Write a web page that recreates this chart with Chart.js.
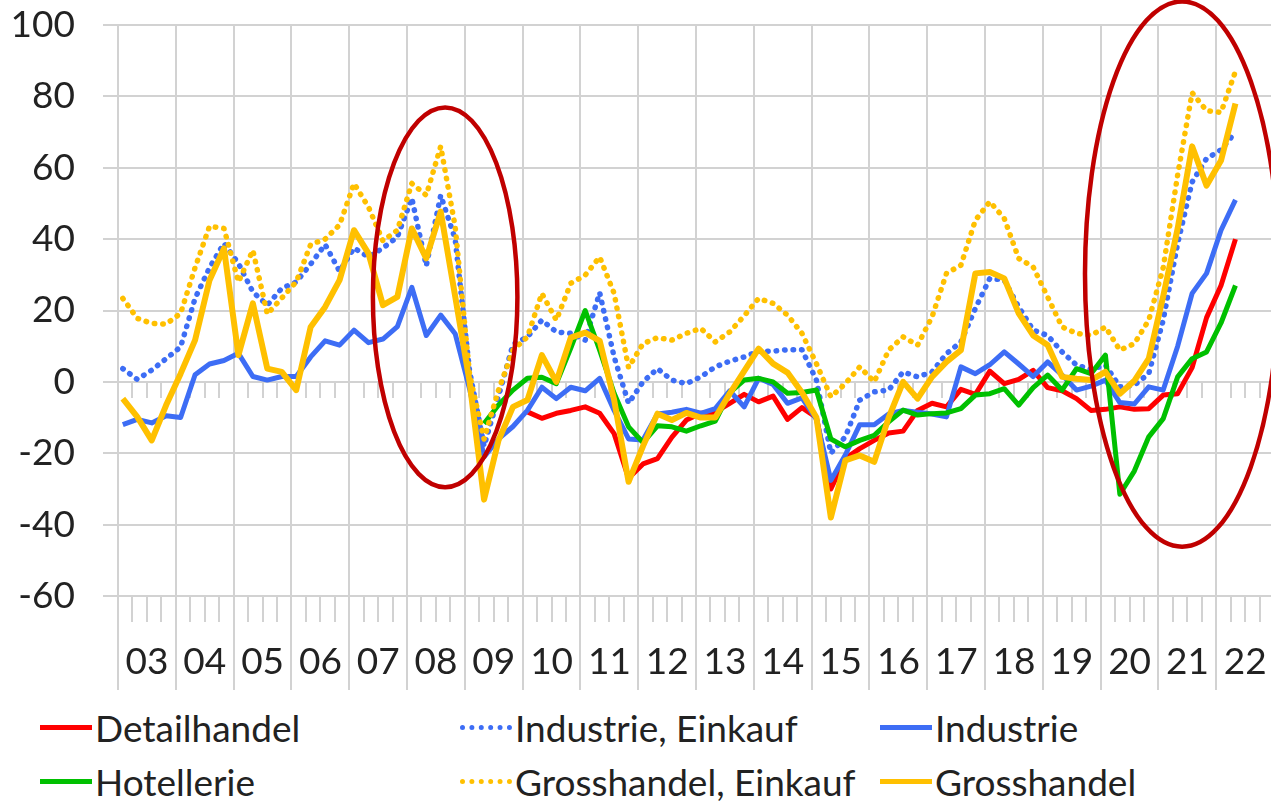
<!DOCTYPE html>
<html>
<head>
<meta charset="utf-8">
<script src="https://cdn.jsdelivr.net/npm/chart.js@4.4.1/dist/chart.umd.min.js"></script>
<style>
  html, body { margin: 0; padding: 0; background: #fff; overflow: hidden; }
  #wrap { position: relative; width: 1271px; height: 805px; overflow: hidden; }
  #chartBox { position: absolute; left: 0; top: 0; width: 1274px; height: 691px; }
  #legend { position: absolute; left: 0; top: 705px; width: 1271px; height: 100px; }
  .item { position: absolute; display: flex; align-items: center; height: 44px; font: 37px Lato, sans-serif; color: #222; white-space: nowrap; }
  .swatch { width: 52px; height: 0; margin-right: 3px; }
</style>
</head>
<body>
<div id="wrap">
  <div id="chartBox"><canvas id="myChart"></canvas></div>
  <div id="legend"></div>
</div>
<script>
// x axis labels (one per year) and the quarterly categories
var yearLabels = ['03','04','05','06','07','08','09','10','11','12','13','14','15','16','17','18','19','20','21','22'];
var lastQuarter = '2022Q2';

// Quarterly survey balances (2003Q1 .. 2022Q2)
var industrie = [
  -12, -10.5, -11.5, -9.5, -10, 2, 5, 6,
  8, 1.5, 0.5, 1.5, 1.5, 7, 11.5, 10.3,
  14.5, 11, 12, 15.5, 26.5, 13, 18.7, 13.5,
  -2, -21, -16, -12.5, -8, -1.5, -4.7, -1.5,
  -2.5, 1, -8, -16, -16.3, -9, -8.5, -7.7,
  -8.8, -7.5, -2.5, -7, 1, -0.7, -6, -4.5,
  -10.5, -27.6, -20.5, -12, -12, -9, -8, -8.5,
  -9, -9.8, 4.2, 2.3, 4.8, 8.4, 5, 1.5,
  5.6, 1.9, -2.3, -1.2, 0.5, -5.8, -6.2, -1.4,
  -2.3, 10, 24.8, 30.4, 42.5, 51
];
var industrieEinkauf = [
  3.7, 0.7, 3.3, 6.5, 9.8, 23.4, 32, 38.8,
  33.2, 25.2, 21.5, 26.2, 28, 33, 38.5, 31,
  37.5, 35, 37.5, 40.6, 51.5, 32.5, 52.3, 40,
  3, -18, -4, 10.5, 12.6, 17.3, 14, 13.6,
  11.7, 25, 7, -6, 0, 3.7, 0.5, -0.5,
  1.4, 4.2, 5.8, 7, 8.6, 8.6, 9, 9,
  0.5, -20, -15.4, -5.1, -2.8, -2.3, 2.8, 1.4,
  2.8, 7.9, 11.2, 20.6, 29, 28.5, 21, 14.5,
  13, 8.4, 4.7, 3.5, 4.7, -1.4, -0.9, 2.3,
  17.3, 38.8, 56, 62.6, 65, 70
];
var grosshandelEinkauf = [
  23.4, 17.8, 16.4, 16.2, 19.2, 32, 43.6, 43,
  28, 36.9, 19, 23.5, 28, 38.5, 40, 44,
  55.6, 49, 39.5, 42.5, 55.6, 52.3, 66, 43.5,
  2, -16, -2.3, 8.9, 12.6, 24.8, 17.3, 27.6,
  29.9, 35, 24.8, 4, 10.7, 12.4, 11.7, 13.6,
  15, 11.2, 14, 18.5, 23.4, 22, 18.7, 13.6,
  5.1, -4.2, -0.5, 4.2, 0, 8.9, 12.6, 10.3,
  18.2, 30.4, 32.7, 45.3, 50.5, 45.8, 34.6, 32.2,
  23.8, 15.4, 13.6, 13, 15.4, 8.9, 10.7, 17.3,
  32, 58, 81, 76, 75.5, 87
];
var grosshandel = [
  -4.7, -9.8, -16.4, -6.5, 2.3, 11.7, 28.5, 37.4,
  7.5, 22, 3.7, 2.8, -2.3, 15.4, 21, 28.5,
  42.5, 36, 21.5, 23.8, 43, 34.6, 47.7, 24,
  0, -33, -16.4, -7, -5.1, 7.5, 0, 12.4,
  13.8, 11.5, -5, -28, -18, -8.9, -10.7, -8.7,
  -10, -10, -3.3, 3, 9.3, 5.1, 2.6, -3,
  -10, -38, -22, -20.6, -22.4, -10, 0, -4.7,
  1.4, 5.6, 8.9, 30.4, 30.8, 29, 19.2, 13,
  10.3, 1.4, 0.9, 0.5, 2.8, -3.3, 0.3, 6.5,
  24, 43, 66, 55, 62, 78
];
// Detailhandel starts 2010Q1
var detailhandelStart = '2010Q1';
var detailhandel = [
  -8.4, -10.2, -8.8, -8,
  -7, -8.8, -14.5, -27, -23, -21.5, -15.5, -10.7,
  -8.8, -8.5, -6, -3.5, -5.6, -4, -10.5, -7.2,
  -10, -30, -21.5, -18.7, -16.4, -14.3, -13.8, -8,
  -6, -7, -2.1, -3.5, 3, -0.5, 0.7, 3.2,
  -1.6, -2.5, -4.7, -8, -7.7, -7, -7.7, -7.5,
  -3.7, -3.3, 4, 18, 27, 40
];
// Hotellerie starts 2009Q2
var hotellerieStart = '2009Q2';
var hotellerie = [
  -11.7, -6.5, -2.3,
  1, 1.3, -0.5, 9.5,
  20, 8.9, -3.2, -12.6, -17, -12.3, -12.6, -13.8,
  -12.3, -11, -3, 0.5, 1, 0, -3.2, -3,
  -2.3, -16, -18.2, -16.4, -15, -11.2, -7.9, -9.3,
  -8.9, -8.7, -7.5, -3.7, -3.3, -1.9, -6.5, -1.6,
  1.9, -2.3, 3.7, 2.3, 7.5, -31.5, -25, -15.4,
  -10.3, 1.4, 6.5, 8.4, 16.5, 27
];

// build the quarter categories from the year labels
var quarters = [];
yearLabels.forEach(function(y) {
  for (var q = 1; q <= 4; q++) quarters.push('20' + y + 'Q' + q);
});
quarters = quarters.slice(0, quarters.indexOf(lastQuarter) + 1);

var gridColor = '#d2d2d2';
var textColor = '#222';
var axisFont = { family: 'Lato', size: 37 };

// quarter -> position on the date axis (middle month of the quarter, as Excel does)
function quarterPos(label) {
  var year = parseInt(label.slice(0, 4), 10);
  var q = parseInt(label.slice(5), 10);
  return year + (q - 1) / 4 + 1 / 12;
}

function toPoints(values, start) {
  var offset = start ? quarters.indexOf(start) : 0;
  return values.map(function(v, i) {
    return { x: quarterPos(quarters[offset + i]), y: v };
  });
}

// red ellipses drawn by the author, in axis units
var highlights = [
  { x: 2008.66, y: 23.7, rx: 1.25, ry: 53.2 },
  { x: 2021.41, y: 30.2, rx: 1.68, ry: 76.4 }
];

var quarterTicks = {
  id: 'quarterTicks',
  beforeDatasetsDraw: function(chart) {
    var ctx = chart.ctx, xs = chart.scales.x, ys = chart.scales.y;
    var rows = [[ys.getPixelForValue(-60), 26], [ys.getPixelForValue(0), 16]];
    ctx.save();
    ctx.strokeStyle = gridColor;
    ctx.lineWidth = 2;
    for (var yr = xs.min; yr < xs.max; yr++) {
      for (var q = 1; q < 4; q++) {
        var px = Math.round(xs.getPixelForValue(yr + q / 4));
        rows.forEach(function(r) {
          ctx.beginPath();
          ctx.moveTo(px, r[0]);
          ctx.lineTo(px, r[0] + r[1]);
          ctx.stroke();
        });
      }
    }
    ctx.restore();
  }
};

var ellipses = {
  id: 'ellipses',
  afterDatasetsDraw: function(chart) {
    var ctx = chart.ctx, xs = chart.scales.x, ys = chart.scales.y;
    ctx.save();
    ctx.strokeStyle = '#c00000';
    ctx.lineWidth = 4.5;
    highlights.forEach(function(h) {
      var cx = xs.getPixelForValue(h.x), cy = ys.getPixelForValue(h.y);
      var rx = Math.abs(xs.getPixelForValue(h.x + h.rx) - cx);
      var ry = Math.abs(ys.getPixelForValue(h.y + h.ry) - cy);
      ctx.beginPath();
      ctx.ellipse(cx, cy, rx, ry, 0, 0, 2 * Math.PI);
      ctx.stroke();
    });
    ctx.restore();
  }
};

function line(label, values, start, color, width, dotted, order) {
  return {
    label: label,
    data: toPoints(values, start),
    borderColor: color,
    backgroundColor: color,
    borderWidth: width,
    borderDash: dotted ? [0.5, 8] : [],
    borderCapStyle: dotted ? 'round' : 'butt',
    borderJoinStyle: 'round',
    pointRadius: 0,
    tension: 0,
    fill: false,
    order: order
  };
}

var ctx = document.getElementById('myChart').getContext('2d');
var chart = new Chart(ctx, {
  type: 'line',
  data: {
    datasets: [
      line('Detailhandel', detailhandel, detailhandelStart, '#ff0000', 5, false, 6),
      line('Industrie, Einkauf', industrieEinkauf, null, '#3d6df5', 5.5, true, 5),
      line('Industrie', industrie, null, '#3d6df5', 5, false, 4),
      line('Hotellerie', hotellerie, hotellerieStart, '#00c000', 5, false, 3),
      line('Grosshandel, Einkauf', grosshandelEinkauf, null, '#ffc000', 5.5, true, 2),
      line('Grosshandel', grosshandel, null, '#ffc000', 6, false, 1)
    ]
  },
  options: {
    responsive: true,
    maintainAspectRatio: false,
    animation: false,
    layout: { padding: { top: 25, left: 0, right: 0, bottom: 0 } },
    plugins: {
      legend: { display: false },
      tooltip: { enabled: false }
    },
    scales: {
      x: {
        type: 'linear',
        min: 2003,
        max: 2023,
        afterBuildTicks: function(scale) {
          var ticks = yearLabels.map(function(l) { return { value: 2000 + parseInt(l, 10) }; });
          ticks.push({ value: 2023 });
          scale.ticks = ticks;
        },
        afterFit: function(scale) { scale.height = 95; },
        ticks: {
          autoSkip: false,
          maxRotation: 0,
          labelOffset: 29,
          padding: -50,
          color: textColor,
          font: axisFont,
          callback: function(value, index) { return yearLabels[index] || ''; }
        },
        grid: { color: gridColor, lineWidth: 2, tickLength: 94 },
        border: { color: gridColor, width: 2 }
      },
      y: {
        min: -60,
        max: 100,
        afterFit: function(scale) {
          scale.width = 118;
          // the label padding is only horizontal here
          scale.paddingTop = 0;
          scale.paddingBottom = 0;
        },
        ticks: { stepSize: 20, padding: 28, color: textColor, font: axisFont },
        grid: { color: gridColor, lineWidth: 2, tickLength: 15 },
        border: { color: gridColor, width: 2 }
      }
    }
  },
  plugins: [quarterTicks, ellipses]
});

// HTML legend laid out in three columns like the original
var legendCols = [40, 460, 880];
var legendRows = [0, 54];
var legendBox = document.getElementById('legend');
chart.data.datasets.forEach(function(ds, k) {
  var item = document.createElement('div');
  item.className = 'item';
  item.style.left = legendCols[k % 3] + 'px';
  item.style.top = legendRows[Math.floor(k / 3)] + 'px';
  var sw = document.createElement('span');
  sw.className = 'swatch';
  sw.style.borderTop = (ds.borderDash.length ? '5px dotted ' : '5px solid ') + ds.borderColor;
  var txt = document.createElement('span');
  txt.textContent = ds.label;
  item.appendChild(sw);
  item.appendChild(txt);
  legendBox.appendChild(item);
});
</script>
</body>
</html>
